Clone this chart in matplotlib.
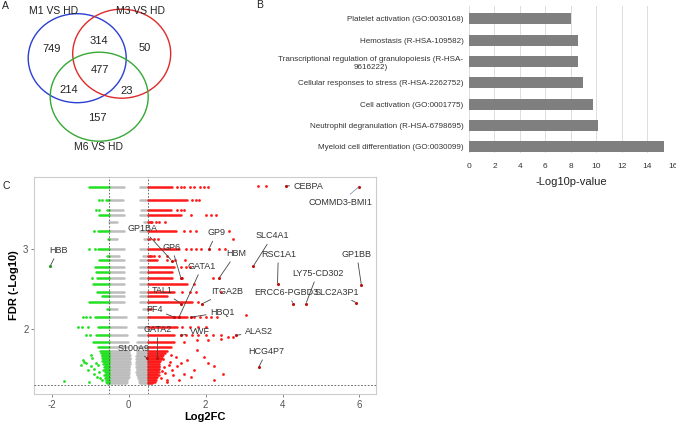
import matplotlib
matplotlib.use("Agg")
import matplotlib.pyplot as plt
from matplotlib.patches import Ellipse

plt.rcParams["font.family"] = ["Liberation Sans", "DejaVu Sans"]
plt.rcParams["axes.unicode_minus"] = False

# ---- panel A: Venn counts ----
venn_sets = ["M1 VS HD", "M3 VS HD", "M6 VS HD"]
venn_counts = {"100": 749, "010": 50, "001": 157, "110": 314,
               "101": 214, "011": 23, "111": 477}

# ---- panel B: enrichment ----
terms = [
    "Platelet activation (GO:0030168)",
    "Hemostasis (R-HSA-109582)",
    "Transcriptional regulation of granulopoiesis (R-HSA-\n9616222)",
    "Cellular responses to stress (R-HSA-2262752)",
    "Cell activation (GO:0001775)",
    "Neutrophil degranulation (R-HSA-6798695)",
    "Myeloid cell differentiation (GO:0030099)",
]
log10p = [8.05, 8.55, 8.6, 8.95, 9.75, 10.1, 15.35]

# ---- panel C: volcano (FDR levels are discrete -> rows of dense points) ----
row_y = [3.79, 3.62, 3.49, 3.43, 3.34, 3.23, 3.13, 3.01, 2.92, 2.87, 2.78, 2.72,
         2.64, 2.56, 2.47, 2.41, 2.34, 2.25, 2.15, 2.02, 1.92, 1.84, 1.78, 1.73]
row_green_lo = [-1.02, -0.59, -0.57, -0.76, -0.52, -0.79, -0.53, -0.79, -0.55, -0.76,
                -0.88, -0.85, -0.82, -0.92, -0.82, -0.70, -1.02, -0.55, -0.88, -0.80,
                -0.85, -0.92, -0.80, -0.75]
row_gray_l = [-0.12, -0.14, -0.14, -0.12, -0.30, -0.12, -0.30, -0.12, -0.25, -0.12,
              -0.12, -0.12, -0.12, -0.12, -0.12, -0.12, -0.12, -0.30, -0.08, -0.06,
              -0.04, -0.02, -0.01, 0.00]
row_gray_r = [0.29, 0.29, 0.32, 0.29, 0.40, 0.29, 0.40, 0.29, 0.38, 0.29, 0.29, 0.29,
              0.29, 0.29, 0.29, 0.29, 0.29, 0.38, 0.25, 0.25, 0.24, 0.22, 0.22, 0.22]
row_red_hi = [1.14, 1.53, 1.10, 1.36, 0.62, 1.23, 0.55, 1.31, 0.60, 0.75, 1.19, 1.14,
              1.14, 1.53, 1.19, 1.00, 1.66, 0.58, 1.53, 1.25, 1.19, 1.19, 1.10, 1.00]

cloud_y = [1.70, 1.68, 1.66, 1.64, 1.62, 1.60, 1.58, 1.56, 1.54, 1.52,
           1.50, 1.48, 1.46, 1.44, 1.42, 1.40, 1.38, 1.36, 1.34, 1.32]
cloud_green_lo = [-0.72, -0.70, -0.68, -0.70, -0.66, -0.68, -0.64, -0.66, -0.62, -0.64,
                  -0.62, -0.66, -0.62, -0.60, -0.64, -0.60, -0.62, -0.58, -0.60, -0.56]
cloud_gray_l = [0.02, 0.03, 0.02, 0.04, 0.03, 0.02, 0.03, 0.04, 0.02, 0.01,
                0.02, 0.01, 0.00, 0.01, -0.01, 0.00, -0.02, -0.03, -0.04, -0.06]
cloud_gray_r = [0.22, 0.22, 0.20, 0.21, 0.20, 0.22, 0.20, 0.19, 0.21, 0.20,
                0.22, 0.21, 0.20, 0.22, 0.23, 0.24, 0.25, 0.26, 0.28, 0.30]
cloud_red_hi = [0.95, 0.90, 0.88, 0.86, 0.84, 0.82, 0.80, 0.80, 0.78, 0.80,
                0.78, 0.76, 0.80, 0.75, 0.78, 0.74, 0.72, 0.70, 0.68, 0.62]

# scattered points
red_x = [1.25, 1.35, 1.45, 1.6, 1.7, 1.85, 1.95, 2.05, 3.35, 3.57,
         1.65, 1.75, 1.83, 1.25, 1.35, 1.44, 1.62, 2.01, 2.14, 2.27,
         0.58, 0.70, 0.80, 0.95, 1.44, 1.6, 1.75, 2.61, 0.65, 0.76, 2.70,
         1.5, 1.62, 1.75, 1.88, 2.35, 2.5, 0.55, 0.65, 0.8, 1.0,
         1.0, 1.2, 1.47, 1.35, 1.5, 1.6, 1.40, 2.2, 1.7, 1.4, 1.6, 1.75, 2.4,
         1.80, 1.7, 1.85, 2.0, 2.15, 2.3, 3.06, 1.4, 1.6, 1.8, 2.0,
         1.5, 1.65, 1.8, 2.0, 2.2, 2.4, 2.70,
         1.23, 1.36, 1.53, 1.70, 1.44, 1.32, 1.96, 2.05, 2.22, 2.44, 1.79,
         1.14, 1.27, 1.62, 1.01, 2.22, 2.57, 2.05, 1.79, 1.44, 2.40,
         0.9, 1.05, 0.95, 1.1, 0.85, 1.15, 0.92, 1.0, 1.08, 0.88]
red_y = [3.79, 3.79, 3.79, 3.79, 3.79, 3.79, 3.79, 3.79, 3.80, 3.80,
         3.62, 3.62, 3.62, 3.49, 3.49, 3.49, 3.43, 3.43, 3.43, 3.43,
         3.34, 3.34, 3.34, 3.34, 3.23, 3.23, 3.23, 3.23, 3.13, 3.13, 3.13,
         3.01, 3.01, 3.01, 3.01, 3.01, 3.01, 2.92, 2.92, 2.92, 2.92,
         2.87, 2.87, 2.87, 2.78, 2.78, 2.78, 2.64, 2.64, 2.56, 2.47, 2.47, 2.47, 2.47,
         2.34, 2.15, 2.15, 2.15, 2.15, 2.15, 2.18, 2.02, 2.02, 2.02, 2.02,
         1.92, 1.92, 1.92, 1.92, 1.92, 1.92, 1.90,
         1.65, 1.57, 1.61, 1.49, 1.44, 1.36, 1.65, 1.57, 1.53, 1.44, 1.74,
         1.49, 1.53, 1.40, 1.36, 1.36, 1.90, 1.86, 1.86, 1.84, 1.88,
         1.62, 1.55, 1.45, 1.68, 1.38, 1.42, 1.52, 1.33, 1.58, 1.47]
green_x = [-0.76, -0.69, -0.85, -0.76, -0.91, -1.02, -0.88, -0.95,
           -1.19, -1.10, -1.00, -1.32, -1.20, -1.05, -1.00, -1.10,
           -1.69, -1.19, -1.11, -1.24, -0.98, -0.94, -1.06, -0.89, -0.98,
           -0.81, -1.02, -1.15, -0.85, -0.76, -0.68, -0.90, -0.80, -0.75]
green_y = [3.62, 3.62, 3.49, 3.49, 3.23, 3.01, 3.01, 2.64,
           2.15, 2.15, 2.15, 2.02, 2.02, 2.02, 1.92, 1.92,
           1.35, 1.61, 1.57, 1.55, 1.67, 1.63, 1.49, 1.44, 1.53,
           1.40, 1.33, 1.59, 1.57, 1.46, 1.36, 1.50, 1.55, 1.38]

genes = ["CEBPA", "COMMD3-BMI1", "HBB", "GP1BA", "GP6", "GP9", "GATA1", "HBM",
         "SLC4A1", "RSC1A1", "LY75-CD302", "ERCC6-PGBD3", "SLC2A3P1", "GP1BB",
         "ITGA2B", "TAL1", "PF4", "HBQ1", "GATA2", "VWF", "ALAS2", "S100A9", "HCG4P7"]
gene_fc = [4.10, 5.99, -2.04, 1.12, 1.36, 2.09, 1.31, 2.35, 3.24, 3.87, 4.61, 4.28,
           5.92, 6.05, 1.92, 1.36, 1.18, 1.62, 0.75, 1.36, 2.79, 0.49, 3.38]
gene_fdr = [3.80, 3.79, 2.79, 2.86, 2.64, 3.01, 2.15, 2.64, 2.79, 2.56, 2.32, 2.32,
            2.33, 2.55, 2.32, 2.32, 2.15, 2.15, 1.63, 1.92, 1.92, 1.63, 1.52]
label_fc = [4.68, 5.51, -1.83, 0.36, 1.12, 2.29, 1.91, 2.79, 3.74, 3.89, 4.91, 4.11,
            5.40, 5.93, 2.55, 0.88, 0.66, 2.44, 0.75, 1.86, 3.39, 0.13, 3.59]
label_fdr = [3.79, 3.59, 2.99, 3.26, 3.03, 3.21, 2.79, 2.95, 3.17, 2.94, 2.70, 2.46,
             2.46, 2.94, 2.47, 2.48, 2.25, 2.21, 2.00, 1.97, 1.97, 1.76, 1.72]

GREEN = "#22e022"
RED = "#ff1a1a"
GRAY = "#bdbdbd"

fig = plt.figure(figsize=(6.76, 4.22), dpi=100)

# overlay in pixel coordinates for the Venn diagram and panel letters
ov = fig.add_axes([0, 0, 1, 1])
ov.set_xlim(0, 676)
ov.set_ylim(422, 0)
ov.axis("off")
circles = [((77.2, 58.2), "#2a3fd4"), ((121.7, 53.7), "#dd2a2a"), ((99.2, 96.7), "#35a835")]
for (cx, cy), col in circles:
    ov.add_patch(Ellipse((cx, cy), 98, 89, fill=False, edgecolor=col, lw=1.0))
set_pos = [(53.5, 11), (140, 11), (98.3, 146.7)]
for name, (tx, ty) in zip(venn_sets, set_pos):
    ov.text(tx, ty, name, ha="center", va="center", fontsize=7.5, color="#222222")
count_pos = {"100": (51.7, 49.3), "010": (144.3, 48.3), "001": (97.7, 118.3),
             "110": (99.3, 40.7), "101": (68.3, 90), "011": (126.7, 90.7),
             "111": (100, 70)}
for key, val in venn_counts.items():
    ov.text(*count_pos[key], str(val), ha="center", va="center", fontsize=8, color="#222222")
for letter, (lx, ly) in zip("ABC", [(5, 6), (260, 5), (6, 186)]):
    ov.text(lx, ly, letter, ha="center", va="center", fontsize=7.5, color="#222222")

# ---- panel B ----
axb = fig.add_axes([469 / 676, 1 - 153 / 422, 203.7 / 676, 146.8 / 422])
ypos = list(range(len(terms) - 1, -1, -1))
axb.barh(ypos, log10p, height=0.52, color="#7f7f7f", zorder=2)
axb.set_xlim(0, 16)
axb.set_ylim(-0.3, 6.6)
axb.set_xticks(range(0, 17, 2))
axb.set_yticks(ypos)
axb.set_yticklabels(terms, multialignment="center")
axb.tick_params(length=0, labelsize=5.8, colors="#333333", pad=4)
axb.tick_params(axis="x", labelsize=6, pad=7)
axb.grid(axis="x", color="#dddddd", lw=0.7, zorder=0)
for s in axb.spines.values():
    s.set_visible(False)
axb.set_xlabel("-Log10p-value", fontsize=8, color="#222222", labelpad=5)

# ---- panel C ----
axc = fig.add_axes([34 / 676, 1 - 394 / 422, 342 / 676, 217 / 422])
seg_lw = 1.8
all_y = row_y + cloud_y
all_glo = row_green_lo + cloud_green_lo
all_gl = row_gray_l + cloud_gray_l
all_gr = row_gray_r + cloud_gray_r
all_rhi = row_red_hi + cloud_red_hi
for coll in [
    axc.hlines(all_y, [-0.5] * len(all_y), all_gl, colors=GRAY, lw=seg_lw),
    axc.hlines(all_y, all_gr, [0.5] * len(all_y), colors=GRAY, lw=seg_lw),
    axc.hlines(all_y, all_glo, [-0.5] * len(all_y), colors=GREEN, lw=seg_lw),
    axc.hlines(all_y, [0.5] * len(all_y), all_rhi, colors=RED, lw=seg_lw),
]:
    coll.set_capstyle("round")
axc.scatter(red_x, red_y, s=4, color=RED, lw=0, zorder=3)
axc.scatter(green_x, green_y, s=4, color=GREEN, lw=0, zorder=3)

for g, x, y, lx, ly in zip(genes, gene_fc, gene_fdr, label_fc, label_fdr):
    col = "#229922" if x < 0 else "#bb1111"
    axc.scatter([x], [y], s=5, color=col, lw=0, zorder=5)
    lcol = "#8899bb" if g == "COMMD3-BMI1" else "#444444"
    axc.annotate(g, xy=(x, y), xytext=(lx, ly), ha="center", va="center",
                 fontsize=6.5, color="#333333", zorder=6,
                 arrowprops=dict(arrowstyle="-", color=lcol, lw=0.6,
                                 shrinkA=1, shrinkB=1))

axc.axvline(-0.5, color="#555555", lw=0.6, ls=(0, (2, 2)), zorder=4)
axc.axvline(0.5, color="#555555", lw=0.6, ls=(0, (2, 2)), zorder=4)
axc.axhline(1.301, color="#555555", lw=0.6, ls=(0, (2, 2)), zorder=4)

axc.set_xlim(-2.46, 6.43)
axc.set_ylim(1.184, 3.91)
axc.set_xticks([-2, 0, 2, 4, 6])
axc.set_yticks([2, 3])
axc.tick_params(labelsize=7, colors="#555555", length=2.5, width=0.5, pad=1.5)
for s in axc.spines.values():
    s.set_color("#cccccc")
    s.set_linewidth(0.8)
axc.set_xlabel("Log2FC", fontsize=8, fontweight="bold", labelpad=2)
axc.set_ylabel("FDR (-Log10)", fontsize=8, fontweight="bold", labelpad=3)

fig.savefig("out.png", dpi=100)
